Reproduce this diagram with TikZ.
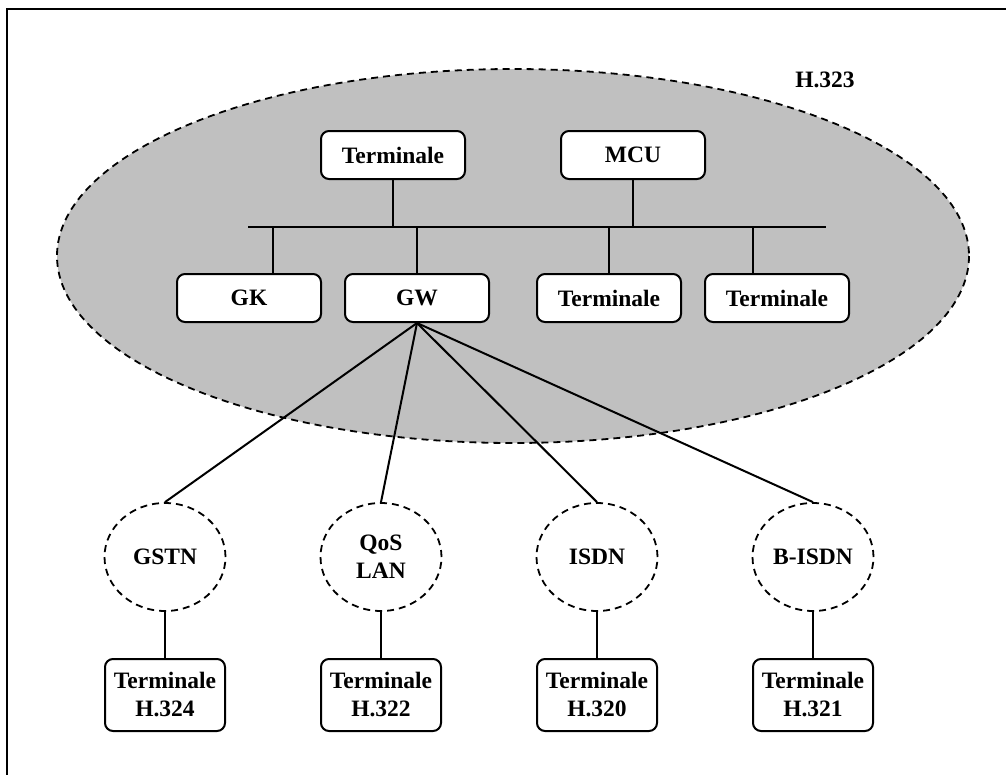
\documentclass[tikz,border=0pt]{standalone}
\usepackage{fontspec}
\setmainfont{Liberation Serif}
\usetikzlibrary{shapes.geometric}
\definecolor{zonegray}{HTML}{C0C0C0}
\begin{document}
\begin{tikzpicture}[x=1pt,y=-1pt,
  lbl/.style={font=\bfseries\fontsize{23.5}{28}\selectfont},
  box/.style={lbl, draw, line width=2pt, rounded corners=8pt, fill=white,
    minimum width=144pt, minimum height=48pt, inner sep=0pt},
  tbox/.style={box, minimum width=120pt, minimum height=72pt, align=center},
  net/.style={lbl, draw, ellipse, line width=1.8pt, dash pattern=on 7pt off 5pt,
    minimum width=121pt, minimum height=108pt, inner sep=0pt, align=center},
  link/.style={line width=2pt}
]
\useasboundingbox (0,0) rectangle (1006,774);
\clip (0,0) rectangle (1006,774);
% outer frame (runs off the right and bottom edges)
\draw[line width=2.6pt] (1040,9) -- (7,9) -- (7,800);

% H.323 zone
\draw[fill=zonegray, line width=1.8pt, dash pattern=on 7pt off 5pt]
  (513,256) ellipse [x radius=456, y radius=187];
\node[lbl] (h323) at (825,80) {H.323};

% upper row
\node[box] (term1) at (393,155) {Terminale};
\node[box] (mcu) at (633,155) {MCU};

% bus
\coordinate (busL) at (248,227);
\coordinate (busR) at (826,227);
\draw[link] (busL) -- (busR);

% lower row
\node[box] (gk) at (249,298) {GK};
\node[box] (gw) at (417,298) {GW};
\node[box] (term2) at (609,298) {Terminale};
\node[box] (term3) at (777,298) {Terminale};

% taps onto the bus
\coordinate (tapGK) at (273,227);
\coordinate (tapT3) at (753,227);
\draw[link] (term1.south) -- (term1.south |- busL);
\draw[link] (mcu.south) -- (mcu.south |- busL);
\draw[link] (tapGK) -- (tapGK |- gk.north);
\draw[link] (gw.north |- busL) -- (gw.north);
\draw[link] (term2.north |- busL) -- (term2.north);
\draw[link] (tapT3) -- (tapT3 |- term3.north);

% external networks
\node[net] (gstn) at (165,557) {GSTN};
\node[net] (qos) at (381,557) {QoS\\LAN};
\node[net] (isdn) at (597,557) {ISDN};
\node[net] (bisdn) at (813,557) {B-ISDN};

\foreach \n in {gstn,qos,isdn,bisdn}
  \draw[link] (gw.south) -- (\n.north);

% terminals on each network
\node[tbox] (t324) at (165,695) {Terminale\\H.324};
\node[tbox] (t322) at (381,695) {Terminale\\H.322};
\node[tbox] (t320) at (597,695) {Terminale\\H.320};
\node[tbox] (t321) at (813,695) {Terminale\\H.321};

\draw[link] (gstn.south) -- (t324.north);
\draw[link] (qos.south) -- (t322.north);
\draw[link] (isdn.south) -- (t320.north);
\draw[link] (bisdn.south) -- (t321.north);
\end{tikzpicture}
\end{document}
